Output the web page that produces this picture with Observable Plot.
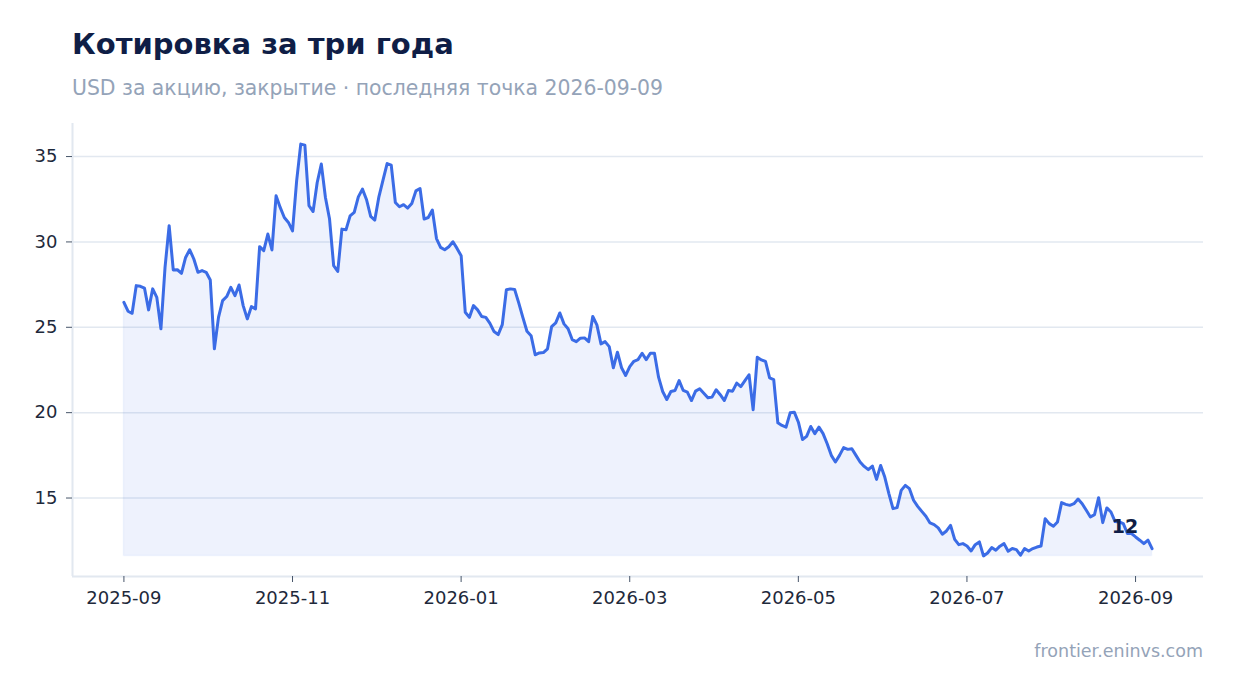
<!DOCTYPE html>
<html>
<head>
<meta charset="utf-8">
<script src="https://cdn.jsdelivr.net/npm/d3@7"></script>
<script src="https://cdn.jsdelivr.net/npm/@observablehq/plot@0.6"></script>
<style>
  html, body { margin: 0; padding: 0; background: #ffffff; }
  body { width: 1234px; height: 693px; position: relative; overflow: hidden; font-family: "DejaVu Sans", sans-serif; }
  .title { position: absolute; left: 72px; top: 29.5px; font-size: 29px; line-height: 1; font-weight: bold; color: #0f1e46; white-space: nowrap; }
  .subtitle { position: absolute; left: 72px; top: 77.7px; font-size: 20.4px; line-height: 1; color: #94a3b8; white-space: nowrap; }
  .caption { position: absolute; right: 31px; top: 643px; font-size: 17.5px; line-height: 1; color: #94a3b8; white-space: nowrap; }
  #chart { position: absolute; left: 0; top: 110px; }
</style>
</head>
<body>
<div class="title">Котировка за три года</div>
<div class="subtitle">USD за акцию, закрытие · последняя точка 2026-09-09</div>
<div id="chart"></div>
<div class="caption">frontier.eninvs.com</div>
<script>
// ---- data ----
const startDate = "2025-09-01";
const endDate = "2026-09-09";
const closes = [
  26.46, 25.94, 25.82, 27.44, 27.40, 27.30, 26.02, 27.25, 26.75, 24.91,
  28.51, 30.95, 28.36, 28.37, 28.16, 29.09, 29.54, 29.00, 28.22, 28.32,
  28.22, 27.77, 23.74, 25.58, 26.56, 26.80, 27.34, 26.85, 27.48, 26.27,
  25.49, 26.21, 26.08, 29.72, 29.49, 30.46, 29.53, 32.70, 32.02, 31.43,
  31.14, 30.65, 33.58, 35.73, 35.67, 32.12, 31.78, 33.48, 34.56, 32.60,
  31.34, 28.61, 28.27, 30.75, 30.71, 31.53, 31.73, 32.64, 33.09, 32.47,
  31.49, 31.28, 32.64, 33.62, 34.59, 34.50, 32.31, 32.06, 32.18, 31.98,
  32.25, 32.99, 33.13, 31.34, 31.43, 31.87, 30.20, 29.68, 29.54, 29.72,
  30.01, 29.62, 29.19, 25.88, 25.58, 26.27, 26.02, 25.63, 25.58, 25.23,
  24.75, 24.57, 25.16, 27.20, 27.25, 27.22, 26.43, 25.58, 24.77, 24.51,
  23.39, 23.50, 23.52, 23.74, 25.04, 25.26, 25.84, 25.20, 24.91, 24.28,
  24.16, 24.36, 24.38, 24.16, 25.63, 25.14, 24.03, 24.16, 23.87, 22.63,
  23.54, 22.63, 22.18, 22.70, 23.01, 23.11, 23.48, 23.11, 23.48, 23.48,
  22.08, 21.24, 20.77, 21.24, 21.30, 21.88, 21.30, 21.20, 20.71, 21.26,
  21.40, 21.14, 20.87, 20.91, 21.34, 21.05, 20.71, 21.30, 21.26, 21.73,
  21.53, 21.88, 22.22, 20.17, 23.25, 23.09, 23.00, 22.04, 21.94, 19.41,
  19.25, 19.15, 19.99, 20.03, 19.44, 18.43, 18.61, 19.19, 18.77, 19.15,
  18.77, 18.18, 17.50, 17.11, 17.50, 17.95, 17.85, 17.89, 17.50, 17.11,
  16.85, 16.66, 16.87, 16.09, 16.91, 16.23, 15.26, 14.38, 14.44, 15.45,
  15.74, 15.55, 14.87, 14.51, 14.22, 13.93, 13.54, 13.44, 13.25, 12.88,
  13.07, 13.40, 12.58, 12.27, 12.33, 12.19, 11.90, 12.27, 12.43, 11.61,
  11.78, 12.10, 11.94, 12.18, 12.33, 11.88, 12.04, 11.98, 11.65, 12.04,
  11.90, 12.04, 12.13, 12.19, 13.79, 13.50, 13.35, 13.60, 14.73, 14.63,
  14.57, 14.67, 14.94, 14.67, 14.28, 13.89, 14.03, 15.02, 13.56, 14.42,
  14.18, 13.62, 13.60, 13.50, 12.92, 12.92, 12.72, 12.53, 12.33, 12.53,
  12.04
];
const yTicks = [15, 20, 25, 30, 35];
const xTickLabels = ["2025-09", "2025-11", "2026-01", "2026-03", "2026-05", "2026-07", "2026-09"];
// the reference's month ticks are evenly spaced between these two dates
const xTickRange = ["2025-09-01", "2026-09-03"];

// ---- build table ----
const t0 = new Date(startDate + "T00:00:00Z");
const t1 = new Date(endDate + "T00:00:00Z");
const step = (t1 - t0) / (closes.length - 1);
const rows = closes.map((v, i) => ({date: new Date(+t0 + i * step), close: v}));
const last = rows[rows.length - 1];

const minV = d3.min(closes), maxV = d3.max(closes);
const padY = (maxV - minV) * 0.05;
const padX = (t1 - t0) * 0.05;
const tA = new Date(xTickRange[0] + "T00:00:00Z");
const tB = new Date(xTickRange[1] + "T00:00:00Z");
const xTicks = xTickLabels.map((s, k) => new Date(+tA + k * (tB - tA) / (xTickLabels.length - 1)));
const tickLabelOf = new Map(xTicks.map((d, k) => [+d, xTickLabels[k]]));

const lineColor = "#3b6ce6";
const gridColor = "#e2e8f0";
const ink = "#1e293b";

const chart = Plot.plot({
  width: 1234,
  height: 520,
  marginLeft: 72,
  marginRight: 31,
  marginTop: 13,
  marginBottom: 54,
  style: {fontFamily: "DejaVu Sans, sans-serif", fontSize: "18px", background: "transparent", color: ink},
  x: {type: "utc", domain: [new Date(+t0 - padX), new Date(+t1 + padX)], label: null},
  y: {domain: [minV - padY, maxV + padY], label: null},
  marks: [
    Plot.gridY(yTicks, {stroke: gridColor, strokeOpacity: 1, strokeWidth: 1.5}),
    Plot.ruleX([new Date(+t0 - padX)], {stroke: gridColor, strokeWidth: 2}),
    Plot.ruleY([minV - padY], {stroke: gridColor, strokeWidth: 2}),
    Plot.areaY(rows, {x: "date", y1: minV, y2: "close", fill: lineColor, fillOpacity: 0.085, stroke: lineColor, strokeOpacity: 0.05, strokeWidth: 1.5}),
    Plot.lineY(rows, {x: "date", y: "close", stroke: lineColor, strokeWidth: 3, strokeLinejoin: "round", strokeLinecap: "round"}),
    Plot.text([last], {x: "date", y: "close", text: d => d3.format(".0f")(d.close), dx: -27, dy: -22, fontWeight: "bold", fontSize: 19, fill: "#0f1e46"}),
    Plot.axisY(yTicks, {tickSize: 6, tickPadding: 9, fontSize: 18, fill: ink, stroke: "#475569", label: null}),
    Plot.axisX(xTicks, {tickSize: 6, tickPadding: 9, fontSize: 18, fill: ink, stroke: "#475569", tickFormat: d => tickLabelOf.get(+d), label: null})
  ]
});
document.getElementById("chart").appendChild(chart);
</script>
</body>
</html>
